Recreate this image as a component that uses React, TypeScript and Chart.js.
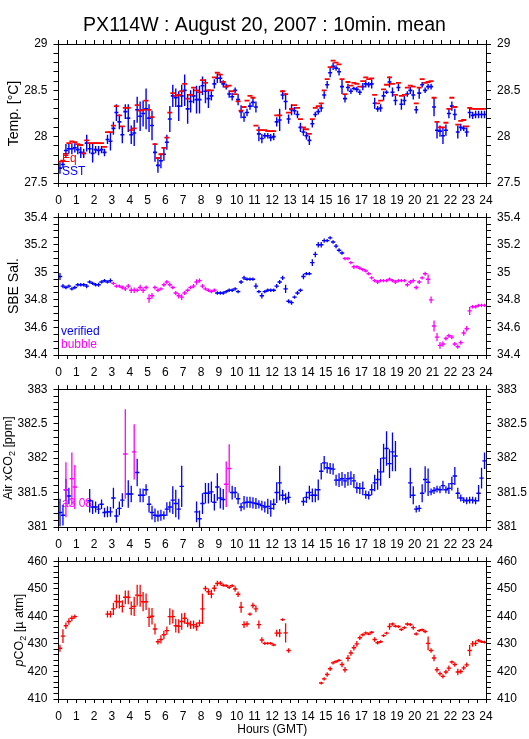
import React, { useEffect, useRef } from 'react';
import { Chart, registerables } from 'chart.js';

Chart.register(...registerables);

const FONT = '"Liberation Sans", Arial, Helvetica, sans-serif';
Chart.defaults.font.family = FONT;
Chart.defaults.color = '#000';

const BLUE = '#0000ff';
const RED = '#ff0000';
const MAGENTA = '#ff00ff';

const TITLE = 'PX114W : August 20, 2007 : 10min. mean';
const X_AXIS_TITLE = 'Hours (GMT)';
const SLOT_MINUTES = 10;
const HOUR_MIN = 0;
const HOUR_MAX = 24;

// ---- Panel 1 : temperature (°C), one value per 10-min slot ----
const SST = [
  27.66, 27.70, 27.85, 27.87, 27.87, 27.88,
  27.86, 27.83, 27.82, 27.93, 27.87, 27.82,
  27.86, 27.85, 27.86, 27.83, 27.97, 27.95,
  28.09, 28.26, 28.16, 28.02, 28.27, 28.20,
  28.02, 28.04, 28.29, 28.22, 28.25, 28.30,
  28.20, 28.12, 27.83, 27.69, 27.74, 27.81,
  27.94, 28.19, 28.44, 28.42, 28.33, 28.44,
  28.50, 28.30, 28.38, 28.44, 28.40, 28.40,
  28.55, 28.49, 28.41, 28.44, 28.57, 28.63,
  28.63, 28.57, 28.54, 28.46, 28.43, 28.50,
  28.40, 28.27, 28.21, 28.26, 28.33, 28.37,
  28.32, 28.03, 27.98, 28.01, 28.01, 27.99,
  28.00, 28.16, 28.18, 28.45, 28.38, 28.19,
  28.29, 28.28, 28.24, 28.10, 28.05, 28.01,
  27.96, 28.14, 28.24, 28.27, 28.31, 28.45,
  28.56, 28.69, 28.76, 28.74, 28.70, 28.54,
  28.41, 28.53, 28.49, 28.52, 28.51, 28.48,
  28.54, 28.57, 28.56, 28.57, 28.36, 28.30,
  28.31, 28.44, 28.48, 28.59, 28.48, 28.39,
  28.53, 28.35, 28.39, 28.46, 28.50, 28.45,
  28.29, 28.47, 28.56, 28.50, 28.54, 28.54,
  28.32, 28.07, 28.06, 28.01, 28.07, 28.25,
  28.33, 28.24, 28.05, 28.10, 28.09, 28.05,
  28.26, 28.23, 28.24, 28.24, 28.24, 28.24,
];
const SST_SD = [
  0.06, 0.04, 0.07, 0.05, 0.06, 0.05,
  0.05, 0.06, 0.05, 0.09, 0.05, 0.10,
  0.04, 0.05, 0.04, 0.04, 0.05, 0.10,
  0.07, 0.09, 0.08, 0.09, 0.08, 0.15,
  0.10, 0.14, 0.14, 0.16, 0.14, 0.22,
  0.15, 0.16, 0.10, 0.08, 0.08, 0.07,
  0.08, 0.14, 0.12, 0.10, 0.16, 0.12,
  0.17, 0.16, 0.12, 0.08, 0.15, 0.15,
  0.10, 0.13, 0.10, 0.05, 0.05, 0.05,
  0.05, 0.04, 0.03, 0.04, 0.04, 0.03,
  0.06, 0.07, 0.05, 0.04, 0.04, 0.05,
  0.06, 0.08, 0.05, 0.03, 0.03, 0.04,
  0.04, 0.05, 0.12, 0.05, 0.09, 0.05,
  0.06, 0.04, 0.04, 0.05, 0.04, 0.04,
  0.05, 0.04, 0.03, 0.03, 0.04, 0.04,
  0.04, 0.05, 0.04, 0.03, 0.04, 0.08,
  0.04, 0.04, 0.03, 0.02, 0.03, 0.03,
  0.04, 0.04, 0.03, 0.05, 0.06, 0.03,
  0.04, 0.05, 0.02, 0.06, 0.05, 0.05,
  0.04, 0.06, 0.05, 0.03, 0.04, 0.05,
  0.04, 0.06, 0.03, 0.03, 0.03, 0.03,
  0.10, 0.09, 0.06, 0.09, 0.06, 0.05,
  0.05, 0.06, 0.07, 0.04, 0.03, 0.05,
  0.06, 0.04, 0.04, 0.04, 0.04, 0.04,
];
const EQ_TEMP = [
  27.73, 27.74, 27.80, 27.93, 27.95, 27.94,
  27.92, 27.91, 27.82, 27.96, 27.93, 27.93,
  27.93, 27.93, 27.93, 27.89, 28.05, 28.05,
  28.12, 28.33, 28.23, 28.11, 28.31, 28.31,
  28.07, 28.09, 28.34, 28.28, 28.29, 28.39,
  28.29, 28.21, 27.92, 27.77, 27.81, 27.88,
  27.99, 28.26, 28.47, 28.44, 28.45, 28.49,
  28.57, 28.41, 28.45, 28.53, 28.50, 28.48,
  28.61, 28.58, 28.50, 28.50, 28.64, 28.69,
  28.67, 28.59, 28.54, 28.55, 28.49, 28.46,
  28.38, 28.28, 28.32, 28.39, 28.44, 28.42,
  28.12, 28.07, 28.07, 28.07, 28.06, 28.06,
  28.06, 28.23, 28.23, 28.49, 28.46, 28.26,
  28.30, 28.34, 28.31, 28.19, 28.10, 28.08,
  28.03, 28.19, 28.31, 28.33, 28.36, 28.50,
  28.62, 28.75, 28.82, 28.80, 28.78, 28.62,
  28.46, 28.59, 28.55, 28.58, 28.57, 28.54,
  28.60, 28.64, 28.62, 28.63, 28.45, 28.36,
  28.39, 28.51, 28.56, 28.64, 28.57, 28.45,
  28.58, 28.44, 28.45, 28.53, 28.55, 28.54,
  28.36, 28.53, 28.62, 28.58, 28.59, 28.60,
  28.42, 28.16, 28.10, 28.10, 28.15, 28.30,
  28.42, 28.32, 28.13, 28.17, 28.18, 28.11,
  28.31, 28.30, 28.30, 28.30, 28.30, 28.30,
];

// ---- Panel 2 : SBE salinity ----
const SAL = [
  34.97, 34.90, 34.89, 34.90, 34.88, 34.89,
  34.91, 34.91, 34.91, 34.90, 34.93, 34.92,
  34.91, 34.91, 34.93, 34.94, 34.93, 34.94,
  34.92, 34.90, 34.90, 34.89, 34.88, 34.90,
  34.87, 34.87, 34.87, 34.89, 34.87, 34.89,
  34.81, 34.83, 34.89, 34.87, 34.88, 34.91,
  34.93, 34.91, 34.89, 34.85, 34.83, 34.82,
  34.85, 34.87, 34.89, 34.90, 34.93, 34.94,
  34.90, 34.88, 34.87, 34.86, 34.87, 34.85,
  34.85, 34.85, 34.86, 34.87, 34.87, 34.88,
  34.86, 34.93, 34.96, 34.95, 34.95, 34.95,
  34.90, 34.86, 34.83, 34.86, 34.87, 34.87,
  34.87, 34.90, 34.93, 34.96, 34.88, 34.79,
  34.78, 34.82, 34.85, 34.87, 34.97, 34.99,
  34.99, 35.07, 35.13, 35.20, 35.20, 35.23,
  35.23, 35.25, 35.22, 35.19, 35.16, 35.14,
  35.10, 35.10, 35.07, 35.04, 35.04, 35.03,
  35.02, 35.01, 34.99, 34.96, 34.94, 34.93,
  34.94, 34.94, 34.94, 34.95, 34.94, 34.93,
  34.94, 34.94, 34.94, 34.91, 34.93, 34.94,
  34.89, 34.93, 34.96, 34.99, 34.95, 34.80,
  34.61, 34.53, 34.47, 34.48, 34.52, 34.54,
  34.53, 34.48, 34.46, 34.49, 34.56, 34.59,
  34.72, 34.75, 34.75, 34.76, 34.76, 34.76,
];
const SAL_SD = [
  0.025, 0.015, 0.012, 0.012, 0.012, 0.012,
  0.012, 0.012, 0.012, 0.015, 0.012, 0.012,
  0.012, 0.015, 0.012, 0.012, 0.012, 0.015,
  0.012, 0.012, 0.012, 0.015, 0.015, 0.015,
  0.020, 0.020, 0.015, 0.020, 0.020, 0.015,
  0.030, 0.020, 0.015, 0.015, 0.012, 0.015,
  0.015, 0.015, 0.012, 0.015, 0.020, 0.020,
  0.015, 0.012, 0.012, 0.015, 0.020, 0.015,
  0.015, 0.012, 0.012, 0.012, 0.012, 0.012,
  0.012, 0.012, 0.012, 0.012, 0.012, 0.012,
  0.012, 0.015, 0.015, 0.012, 0.012, 0.012,
  0.020, 0.012, 0.020, 0.012, 0.012, 0.012,
  0.012, 0.015, 0.015, 0.015, 0.030, 0.015,
  0.015, 0.012, 0.015, 0.012, 0.020, 0.012,
  0.012, 0.025, 0.020, 0.020, 0.020, 0.015,
  0.012, 0.012, 0.012, 0.015, 0.015, 0.012,
  0.012, 0.012, 0.012, 0.015, 0.012, 0.012,
  0.012, 0.012, 0.012, 0.012, 0.012, 0.015,
  0.012, 0.012, 0.012, 0.012, 0.012, 0.015,
  0.012, 0.012, 0.012, 0.015, 0.015, 0.015,
  0.015, 0.015, 0.012, 0.015, 0.035, 0.025,
  0.040, 0.030, 0.025, 0.020, 0.015, 0.015,
  0.015, 0.015, 0.015, 0.015, 0.020, 0.020,
  0.030, 0.012, 0.012, 0.012, 0.012, 0.012,
];
// slot ranges flagged "bubble" (the rest are "verified")
const SAL_BUBBLE_SLOTS: [number, number][] = [[18, 52], [96, 143]];

// ---- Panel 3 : air xCO2 (ppm) ----
const XCO2 = [
  381.21, 381.17, 381.54, 381.45, null, null,
  null, null, null, null, 381.38, 381.29,
  381.29, 381.26, 381.33, 381.21, 381.22, 381.22,
  381.42, 381.16, 381.27, 381.39, null, 381.48,
  381.48, null, 381.79, 381.46, 381.46, 381.54,
  381.33, 381.21, 381.17, 381.16, 381.17, 381.17,
  381.26, 381.29, 381.39, 381.34, 381.26, 381.59,
  null, null, null, null, 381.22, 381.12,
  381.34, 381.49, 381.49, 381.51, 381.36, 381.58,
  381.42, 381.40, null, null, 381.50, 381.50,
  381.41, 381.29, 381.35, 381.36, 381.36, 381.35,
  381.34, 381.33, 381.31, 381.29, 381.30, 381.27,
  381.33, 381.50, 381.64, 381.46, 381.41, 381.43,
  null, null, null, null, 381.37, 381.43,
  381.50, 381.46, 381.46, 381.54, 381.81, 381.93,
  381.86, 381.85, 381.84, 381.68, 381.68, 381.70,
  381.67, 381.70, 381.71, 381.67, 381.57, 381.56,
  381.56, 381.47, 381.46, 381.54, 381.64, 381.69,
  381.80, 382.00, 382.14, 381.92, 382.09, 382.03,
  null, null, null, null, 381.64, 381.46,
  381.26, 381.27, 381.49, 381.69, 381.65, 381.51,
  381.53, 381.55, 381.54, 381.60, 381.54, 381.56,
  381.63, 381.74, 381.49, 381.42, 381.39, 381.38,
  381.39, 381.39, 381.38, 381.49, 381.71, 381.96,
];
const XCO2_SD = [
  0.20, 0.15, 0.16, 0.12, null, null,
  null, null, null, null, 0.17, 0.10,
  0.08, 0.07, 0.07, 0.07, 0.08, 0.07,
  0.15, 0.10, 0.10, 0.10, null, 0.20,
  0.12, null, 0.20, 0.10, 0.10, 0.08,
  0.12, 0.10, 0.10, 0.08, 0.08, 0.06,
  0.10, 0.08, 0.20, 0.20, 0.15, 0.30,
  null, null, null, null, 0.15, 0.12,
  0.15, 0.15, 0.15, 0.15, 0.12, 0.20,
  0.15, 0.15, null, null, 0.10, 0.08,
  0.08, 0.06, 0.10, 0.08, 0.08, 0.08,
  0.08, 0.06, 0.07, 0.08, 0.11, 0.12,
  0.08, 0.15, 0.25, 0.08, 0.08, 0.08,
  null, null, null, null, 0.06, 0.08,
  0.10, 0.10, 0.10, 0.15, 0.12, 0.10,
  0.08, 0.08, 0.08, 0.08, 0.10, 0.10,
  0.10, 0.10, 0.10, 0.10, 0.08, 0.08,
  0.10, 0.06, 0.06, 0.08, 0.12, 0.15,
  0.20, 0.21, 0.25, 0.21, 0.28, 0.22,
  null, null, null, null, 0.22, 0.13,
  0.05, 0.05, 0.13, 0.19, 0.20, 0.05,
  0.05, 0.05, 0.05, 0.07, 0.05, 0.08,
  0.10, 0.13, 0.08, 0.05, 0.04, 0.05,
  0.05, 0.05, 0.05, 0.12, 0.15, 0.12,
];
// flagged (magenta) xCO2 records: slot index, value, sd
const XCO2_FLAG_SLOTS = [2, 4, 5, 22, 25, 56, 57];
const XCO2_FLAG = [381.54, 381.70, 381.58, 382.06, 382.09, 381.62, 381.85];
const XCO2_FLAG_SD = [0.40, 0.38, 0.32, 0.65, 0.40, 0.33, 0.35];

// ---- Panel 4 : pCO2 (µatm) ----
const PCO2 = [
  428.4, 432.8, 436.6, 438.1, 439.3, 439.9,
  null, null, null, null, null, null,
  null, null, null, null, 440.8, 440.8,
  442.7, 445.4, 445.3, 443.6, 446.9, 446.9,
  442.9, 443.6, 447.7, 447.5, 445.3, 445.3,
  439.6, 440.0, 435.4, 430.8, 431.6, 433.3,
  434.8, 439.9, 439.9, 436.6, 436.4, 438.1,
  439.3, 437.5, 436.9, 437.0, 436.3, 437.6,
  442.7, 450.1, 448.9, 448.1, 450.2, 451.9,
  452.0, 451.3, 451.1, 450.5, 451.1, 449.9,
  448.0, 443.3, 437.0, 437.2, 440.8, 443.9,
  442.7, 437.0, 431.4, 430.2, 430.2, 430.2,
  429.6, 433.9, 433.9, 438.8, 434.0, 427.6,
  null, null, null, null, null, null,
  null, null, null, null, 415.8, 417.3,
  418.9, 421.0, 423.1, 423.6, 424.0, 422.5,
  420.6, 424.8, 426.7, 428.6, 430.0, 432.2,
  433.3, 434.0, 433.6, 434.2, 431.6, 430.4,
  430.8, 433.0, 433.9, 436.3, 437.2, 436.4,
  436.3, 435.2, 435.9, 437.2, 437.0, 435.9,
  433.6, 434.8, 435.1, 434.5, 430.2, 427.6,
  424.9, 420.6, 419.2, 418.2, 419.8, 421.2,
  423.4, 422.5, 419.8, 420.0, 421.3, 422.4,
  427.6, 430.0, 430.2, 431.2, 430.8, 430.6,
];
const PCO2_SD = [
  1.3, 2.5, 1.2, 1.2, 1.0, 0.8,
  null, null, null, null, null, null,
  null, null, null, null, 1.2, 1.2,
  2.2, 2.5, 2.5, 2.2, 2.5, 2.5,
  2.5, 3.5, 3.8, 4.0, 3.5, 3.0,
  3.5, 3.0, 2.0, 1.0, 1.5, 1.5,
  1.5, 3.0, 2.5, 2.5, 2.5, 3.0,
  2.0, 1.5, 1.5, 1.5, 1.5, 1.2,
  5.5, 1.0, 1.2, 1.5, 1.2, 1.0,
  0.8, 0.6, 0.5, 0.6, 0.5, 1.0,
  1.0, 2.0, 1.2, 1.0, 0.6, 1.0,
  1.2, 1.5, 1.0, 0.6, 0.5, 0.5,
  0.5, 1.2, 1.5, 0.5, 3.5, 0.8,
  null, null, null, null, null, null,
  null, null, null, null, 0.5, 0.6,
  0.8, 0.8, 0.6, 0.5, 0.5, 1.0,
  1.0, 1.2, 1.0, 1.0, 1.0, 0.8,
  0.6, 0.5, 0.5, 0.5, 0.8, 0.6,
  0.5, 0.5, 0.5, 1.2, 0.6, 0.5,
  0.5, 0.5, 0.5, 0.6, 0.6, 0.8,
  0.6, 0.5, 0.5, 0.6, 2.5, 0.8,
  1.2, 1.0, 0.8, 0.8, 0.8, 1.0,
  0.6, 0.8, 1.2, 0.8, 0.8, 0.8,
  2.0, 1.0, 1.0, 0.6, 0.5, 0.5,
];

// ---------------------------------------------------------------------------

const slotHour = (i: number) => ((i + 0.5) * SLOT_MINUTES) / 60;
const inRanges = (i: number, ranges: [number, number][]) => ranges.some(([a, b]) => i >= a && i <= b);

type Series = {
  values: (number | null)[];
  sd?: (number | null)[];
  slots?: number[];
  color: string;
  barWidth: number;
  dash: number;
  lineWidth: number;
  order: number;
};
type TitlePart = { text: string; italic?: boolean; sub?: boolean };
type LegendItem = { text: string; color: string; dy: number };
type Panel = {
  top: number;
  height: number;
  topH: number;
  bottomH: number;
  yMin: number;
  yMax: number;
  yStep: number;
  yMajor: number;
  yTitle: TitlePart[];
  yTitleSize: number;
  yTitleX: number;
  legend: LegendItem[];
  legendDx: number;
  series: Series[];
  mainTitle?: boolean;
  xTitle?: boolean;
};

const LEFT_W = 58.5;
const RIGHT_W = 43;
const PLOT_H = 139;

const PANELS: Panel[] = [
  {
    top: 0, height: 44 + PLOT_H + 26, topH: 44 - 14 - 19.5 * 1.2, bottomH: 26,
    yMin: 27.5, yMax: 29, yStep: 0.1, yMajor: 0.5,
    yTitle: [{ text: 'Temp. [°C]' }], yTitleSize: 14, yTitleX: 14.5,
    legend: [{ text: 'Eq', color: RED, dy: 24 }, { text: 'SST', color: BLUE, dy: 11 }], legendDx: 3.5,
    series: [
      { values: EQ_TEMP, color: RED, barWidth: 0, dash: 2.5, lineWidth: 1.8, order: 0 },
      { values: SST, sd: SST_SD, color: BLUE, barWidth: 1.4, dash: 2, lineWidth: 1.6, order: 1 },
    ],
    mainTitle: true,
  },
  {
    top: 216 - 12, height: 12 + PLOT_H + 26, topH: 12, bottomH: 26,
    yMin: 34.4, yMax: 35.4, yStep: 0.05, yMajor: 0.2,
    yTitle: [{ text: 'SBE Sal.' }], yTitleSize: 14, yTitleX: 14,
    legend: [{ text: 'verified', color: BLUE, dy: 23.5 }, { text: 'bubble', color: MAGENTA, dy: 10 }], legendDx: 2.5,
    series: [
      { values: SAL.map((v, i) => (inRanges(i, SAL_BUBBLE_SLOTS) ? null : v)), sd: SAL_SD, color: BLUE, barWidth: 1.3, dash: 2.2, lineWidth: 1.4, order: 0 },
      { values: SAL.map((v, i) => (inRanges(i, SAL_BUBBLE_SLOTS) ? v : null)), sd: SAL_SD, color: MAGENTA, barWidth: 1.3, dash: 2.2, lineWidth: 1.4, order: 0 },
    ],
  },
  {
    top: 388 - 12, height: 12 + PLOT_H + 26, topH: 12, bottomH: 26,
    yMin: 381, yMax: 383, yStep: 0.1, yMajor: 0.5,
    yTitle: [{ text: 'Air xCO' }, { text: '2', sub: true }, { text: ' [ppm]' }], yTitleSize: 12.5, yTitleX: 8.5,
    legend: [{ text: 'a3 08', color: MAGENTA, dy: 23 }], legendDx: 3.5,
    series: [
      { values: XCO2, sd: XCO2_SD, color: BLUE, barWidth: 1.3, dash: 2.2, lineWidth: 1.4, order: 1 },
      { values: XCO2_FLAG, sd: XCO2_FLAG_SD, slots: XCO2_FLAG_SLOTS, color: MAGENTA, barWidth: 1.3, dash: 2.2, lineWidth: 1.4, order: 0 },
    ],
  },
  {
    top: 560 - 12, height: 12 + PLOT_H + 40, topH: 12, bottomH: 40,
    yMin: 410, yMax: 460, yStep: 2, yMajor: 10,
    yTitle: [{ text: 'p', italic: true }, { text: 'CO' }, { text: '2', sub: true }, { text: ' [µ atm]' }], yTitleSize: 12.5, yTitleX: 19.5,
    legend: [], legendDx: 3,
    series: [
      { values: PCO2, sd: PCO2_SD, color: RED, barWidth: 1.3, dash: 2.2, lineWidth: 1.4, order: 0 },
    ],
    xTitle: true,
  },
];

const yTitlePlugin = {
  id: 'yTitle',
  afterDraw(chart: any, _args: any, opts: any) {
    const { ctx, chartArea } = chart;
    const parts: TitlePart[] = opts.parts || [];
    const size: number = opts.size;
    ctx.save();
    ctx.translate(opts.x, (chartArea.top + chartArea.bottom) / 2);
    ctx.rotate(-Math.PI / 2);
    ctx.fillStyle = '#000';
    ctx.textBaseline = 'middle';
    ctx.textAlign = 'left';
    const fonts = parts.map((p) => `${p.italic ? 'italic ' : ''}${p.sub ? size * 0.72 : size}px ${FONT}`);
    const widths = parts.map((p, i) => {
      ctx.font = fonts[i];
      return ctx.measureText(p.text).width;
    });
    const total = widths.reduce((a, b) => a + b, 0);
    let x = -total / 2;
    parts.forEach((p, i) => {
      ctx.font = fonts[i];
      ctx.fillText(p.text, x, p.sub ? size * 0.32 : 0);
      x += widths[i];
    });
    ctx.restore();
  },
};

const cornerLegendPlugin = {
  id: 'cornerLegend',
  beforeDatasetsDraw(chart: any, _args: any, opts: any) {
    const { ctx, chartArea } = chart;
    const items: LegendItem[] = opts.items || [];
    ctx.save();
    ctx.font = `12px ${FONT}`;
    ctx.textBaseline = 'middle';
    ctx.textAlign = 'left';
    items.forEach((it) => {
      ctx.fillStyle = it.color;
      ctx.fillText(it.text, chartArea.left + opts.dx, chartArea.bottom - it.dy);
    });
    ctx.restore();
  },
};

function labelEvery(major: number) {
  return (v: any) => {
    const n = Number(v);
    const q = n / major;
    return Math.abs(q - Math.round(q)) < 1e-6 ? String(parseFloat(n.toFixed(2))) : '';
  };
}

function buildConfig(p: Panel): any {
  const datasets: any[] = [];
  p.series.forEach((s) => {
    const slotOf = (i: number) => (s.slots ? s.slots[i] : i);
    if (s.sd) {
      const sd = s.sd;
      datasets.push({
        type: 'bar',
        xAxisID: 'x',
        yAxisID: 'y',
        data: s.values
          .map((v, i) => (v == null || sd[i] == null ? null : { x: slotHour(slotOf(i)), y: [v - (sd[i] as number), v + (sd[i] as number)] }))
          .filter(Boolean),
        backgroundColor: s.color,
        borderWidth: 0,
        barThickness: s.barWidth,
        inflateAmount: 0,
        grouped: false,
        order: s.order,
      });
    }
    datasets.push({
      type: 'scatter',
      xAxisID: 'x',
      yAxisID: 'y',
      data: s.values.map((v, i) => (v == null ? null : { x: slotHour(slotOf(i)), y: v })).filter(Boolean),
      showLine: false,
      pointStyle: 'line',
      pointRadius: s.dash,
      pointHoverRadius: s.dash,
      pointBorderColor: s.color,
      pointBackgroundColor: s.color,
      pointBorderWidth: s.lineWidth,
      pointHoverBorderWidth: s.lineWidth,
      borderColor: s.color,
      backgroundColor: s.color,
      order: s.order,
    });
  });

  const tickFont = { family: FONT, size: 12 };
  const border = { display: true, color: '#000', width: 1 };
  const xGrid = { drawOnChartArea: false, drawTicks: true, tickLength: 4, color: '#000', offset: false, lineWidth: 1 };
  const yGrid = { drawOnChartArea: false, drawTicks: true, tickLength: 5, color: '#000', lineWidth: 1 };

  return {
    type: 'scatter',
    data: { datasets },
    plugins: [yTitlePlugin, cornerLegendPlugin],
    options: {
      animation: false,
      responsive: false,
      events: [],
      layout: { padding: 0 },
      plugins: {
        legend: { display: false },
        tooltip: { enabled: false },
        title: p.mainTitle
          ? { display: true, text: TITLE, color: '#000', font: { family: FONT, size: 19.5, weight: 'normal' }, padding: { top: 14, bottom: 0 } }
          : { display: false },
        yTitle: { parts: p.yTitle, size: p.yTitleSize, x: p.yTitleX },
        cornerLegend: { items: p.legend, dx: p.legendDx },
      },
      scales: {
        x: {
          type: 'linear',
          position: 'bottom',
          min: HOUR_MIN,
          max: HOUR_MAX,
          offset: false,
          ticks: { stepSize: 0.5, autoSkip: false, maxRotation: 0, minRotation: 0, padding: 6, color: '#000', font: tickFont, callback: labelEvery(1) },
          grid: xGrid,
          border,
          title: p.xTitle
            ? { display: true, text: X_AXIS_TITLE, color: '#000', font: { family: FONT, size: 12 }, padding: { top: 0, bottom: 2 } }
            : { display: false },
          afterFit: (s: any) => { s.height = p.bottomH; },
        },
        xTop: {
          type: 'linear',
          position: 'top',
          min: HOUR_MIN,
          max: HOUR_MAX,
          offset: false,
          ticks: { stepSize: 0.5, autoSkip: false, maxRotation: 0, minRotation: 0, callback: () => '' },
          grid: xGrid,
          border,
          afterFit: (s: any) => { s.height = p.topH; },
        },
        y: {
          type: 'linear',
          position: 'left',
          min: p.yMin,
          max: p.yMax,
          ticks: { stepSize: p.yStep, autoSkip: false, padding: 6, color: '#000', font: tickFont, callback: labelEvery(p.yMajor) },
          grid: yGrid,
          border,
          afterFit: (s: any) => { s.width = LEFT_W; },
        },
        yRight: {
          type: 'linear',
          position: 'right',
          min: p.yMin,
          max: p.yMax,
          ticks: { stepSize: p.yStep, autoSkip: false, padding: 6, color: '#000', font: tickFont, callback: labelEvery(p.yMajor) },
          grid: yGrid,
          border,
          afterFit: (s: any) => { s.width = RIGHT_W; },
        },
      },
    },
  };
}

function PanelChart({ panel }: { panel: Panel }) {
  const ref = useRef<HTMLCanvasElement>(null);
  useEffect(() => {
    if (!ref.current) return;
    const chart = new Chart(ref.current, buildConfig(panel));
    return () => chart.destroy();
  }, [panel]);
  return (
    <canvas
      ref={ref}
      width={529}
      height={Math.round(panel.height)}
      style={{ position: 'absolute', left: 0, top: panel.top, width: 529, height: Math.round(panel.height) }}
    />
  );
}

export default function App() {
  return (
    <div style={{ position: 'absolute', left: 0, top: 0, width: 529, height: 739, background: '#fff', overflow: 'hidden' }}>
      {PANELS.map((p, i) => (
        <PanelChart key={i} panel={p} />
      ))}
    </div>
  );
}
